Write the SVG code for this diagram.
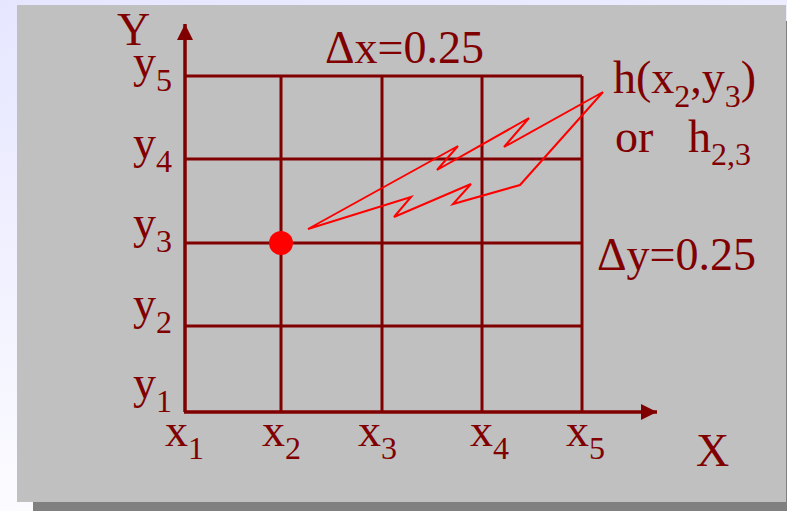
<svg xmlns="http://www.w3.org/2000/svg" width="787" height="511" viewBox="0 0 787 511">
  <defs>
    <linearGradient id="bg" x1="0" y1="0" x2="0.3" y2="1">
      <stop offset="0" stop-color="#E6E6FF"/>
      <stop offset="1" stop-color="#FDFDFF"/>
    </linearGradient>
    <marker id="arr" viewBox="0 0 16 16" refX="16" refY="8" markerWidth="16" markerHeight="16" markerUnits="userSpaceOnUse" orient="auto">
      <path d="M0,0 L16,8 L0,16 Z" fill="#800000"/>
    </marker>
  </defs>
  <style>
    .grid { stroke: #800000; stroke-width: 3; fill: none; }
    .axis { stroke: #800000; stroke-width: 3.5; fill: none; }
    text { font-family: "Liberation Serif", "Times New Roman", serif; fill: #800000; font-size: 46px; }
    .sub { font-size: 32px; }
  </style>
  <rect x="0" y="0" width="787" height="511" fill="url(#bg)"/>
  <rect x="33" y="21" width="770" height="497" fill="#808080"/>
  <rect x="17" y="5" width="769" height="497" fill="#C0C0C0"/>

  <g id="grid">
    <line class="grid" x1="185" y1="76" x2="582" y2="76"/>
    <line class="grid" x1="185" y1="159" x2="582" y2="159"/>
    <line class="grid" x1="185" y1="243" x2="582" y2="243"/>
    <line class="grid" x1="185" y1="326" x2="582" y2="326"/>
    <line class="grid" x1="281" y1="76" x2="281" y2="412"/>
    <line class="grid" x1="382" y1="76" x2="382" y2="412"/>
    <line class="grid" x1="482" y1="76" x2="482" y2="412"/>
    <line class="grid" x1="582" y1="76" x2="582" y2="412"/>
  </g>
  <g id="axes">
    <line class="axis" x1="185" y1="412" x2="185" y2="24" marker-end="url(#arr)"/>
    <line class="axis" x1="184" y1="412" x2="657" y2="412" marker-end="url(#arr)"/>
  </g>

  <g id="point">
    <circle cx="281" cy="243" r="12" fill="#FF0000"/>
  </g>
  <g id="lightning">
    <polygon points="308,229 458,146 437,170 529,118 504,147 603,92 520,185 453,204 471,184 394,217 411,197" fill="none" stroke="#FF0000" stroke-width="2" stroke-linejoin="miter"/>
  </g>

  <g id="labels">
    <text x="117" y="45">Y</text>
    <text x="696" y="466">X</text>
    <text x="325" y="63">Δx=0.25</text>
    <text x="597" y="270">Δy=0.25</text>
    <text x="613" y="93">h(x<tspan class="sub" dy="14">2</tspan><tspan dy="-14">,y</tspan><tspan class="sub" dy="14">3</tspan><tspan dy="-14">)</tspan></text>
    <text x="615" y="152">or</text>
    <text x="688" y="152">h<tspan class="sub" dy="13">2,3</tspan></text>

    <text x="133" y="77">y<tspan class="sub" dy="14">5</tspan></text>
    <text x="133" y="158">y<tspan class="sub" dy="14">4</tspan></text>
    <text x="133" y="238">y<tspan class="sub" dy="14">3</tspan></text>
    <text x="133" y="319">y<tspan class="sub" dy="14">2</tspan></text>
    <text x="133" y="398">y<tspan class="sub" dy="14">1</tspan></text>

    <text x="165" y="446">x<tspan class="sub" dy="13">1</tspan></text>
    <text x="262" y="446">x<tspan class="sub" dy="13">2</tspan></text>
    <text x="358" y="446">x<tspan class="sub" dy="13">3</tspan></text>
    <text x="470" y="446">x<tspan class="sub" dy="13">4</tspan></text>
    <text x="566" y="446">x<tspan class="sub" dy="13">5</tspan></text>
  </g>
</svg>
